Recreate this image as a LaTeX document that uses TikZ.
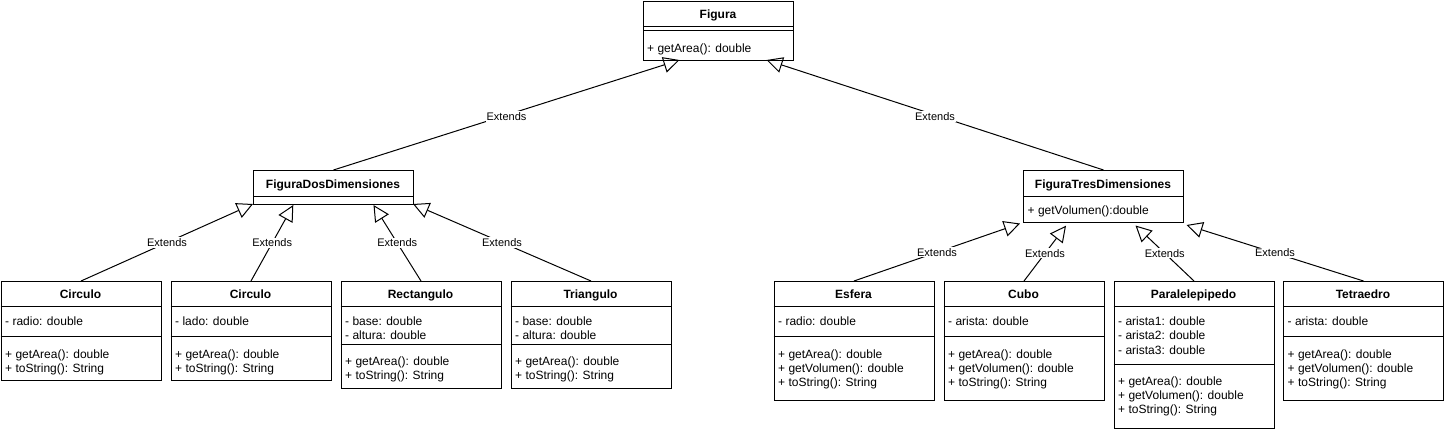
\documentclass[tikz,border=0pt]{standalone}
\usepackage{fontspec}
\setmainfont{Liberation Sans}
\usetikzlibrary{arrows.meta}
\begin{document}
\begin{tikzpicture}[x=1pt,y=-1pt,
  cls/.style={draw, line width=1pt, anchor=north west, inner sep=0pt, fill=white, minimum width=160pt},
  sepline/.style={line width=1pt},
  nm/.style={font=\fontsize{12}{14}\selectfont\bfseries, anchor=base, inner sep=0pt},
  txt/.style={font=\fontsize{12}{14}\selectfont, anchor=base west, inner sep=0pt},
  ext/.style={line width=1pt, -{Triangle[open, length=16pt, width=16pt]}},
  lbl/.style={font=\fontsize{11}{13}\selectfont, fill=white, inner sep=1pt}]
\useasboundingbox (0,0) rectangle (1444,432);

% ---------- Figura ----------
\node[cls, minimum width=150pt, minimum height=59.5pt] (fig) at (643,0.5) {};
\draw[sepline] (643,26) -- (793,26);
\draw[sepline] (643,30) -- (793,30);
\node[nm] (fign) at (718,18) {Figura};
\node[txt] (figm1) at (647,52) {+ getArea(): double};

% ---------- FiguraDosDimensiones ----------
\node[cls, minimum height=34pt] (fdos) at (253,170) {};
\draw[sepline] (253,196.5) -- (413,196.5);
\node[nm] (fdosn) at (333,188) {FiguraDosDimensiones};

% ---------- FiguraTresDimensiones ----------
\node[cls, minimum height=52pt] (ftres) at (1023,170) {};
\draw[sepline] (1023,196) -- (1183,196);
\node[nm] (ftresn) at (1103,188) {FiguraTresDimensiones};
\node[txt] (ftresm1) at (1027.5,214.5) {+ getVolumen():double};

% ---------- Circulo (radio) ----------
\node[cls, minimum height=99pt] (c1) at (0.5,281) {};
\draw[sepline] (0.5,306) -- (160.5,306);
\draw[sepline] (0.5,336.5) -- (160.5,336.5);
\node[nm] (c1n) at (80.5,298) {Circulo};
\node[txt] (c1a1) at (5,325) {- radio: double};
\node[txt] (c1m1) at (5,358) {+ getArea(): double};
\node[txt] (c1m2) at (5,372) {+ toString(): String};

% ---------- Circulo (lado) ----------
\node[cls, minimum height=99pt] (c2) at (170.5,281) {};
\draw[sepline] (170.5,306) -- (330.5,306);
\draw[sepline] (170.5,336.5) -- (330.5,336.5);
\node[nm] (c2n) at (250.5,298) {Circulo};
\node[txt] (c2a1) at (175,325) {- lado: double};
\node[txt] (c2m1) at (175,358) {+ getArea(): double};
\node[txt] (c2m2) at (175,372) {+ toString(): String};

% ---------- Rectangulo ----------
\node[cls, minimum height=107pt] (rect) at (340.5,281) {};
\draw[sepline] (340.5,306) -- (500.5,306);
\draw[sepline] (340.5,344) -- (500.5,344);
\node[nm] (rectn) at (420.5,298) {Rectangulo};
\node[txt] (recta1) at (345,325) {- base: double};
\node[txt] (recta2) at (345,339) {- altura: double};
\node[txt] (rectm1) at (345,365.5) {+ getArea(): double};
\node[txt] (rectm2) at (345,379.5) {+ toString(): String};

% ---------- Triangulo ----------
\node[cls, minimum height=107pt] (tri) at (510.5,281) {};
\draw[sepline] (510.5,306) -- (670.5,306);
\draw[sepline] (510.5,344) -- (670.5,344);
\node[nm] (trin) at (590.5,298) {Triangulo};
\node[txt] (tria1) at (515,325) {- base: double};
\node[txt] (tria2) at (515,339) {- altura: double};
\node[txt] (trim1) at (515,365.5) {+ getArea(): double};
\node[txt] (trim2) at (515,379.5) {+ toString(): String};

% ---------- Esfera ----------
\node[cls, minimum height=119pt] (esf) at (773.5,281) {};
\draw[sepline] (773.5,306) -- (933.5,306);
\draw[sepline] (773.5,336.5) -- (933.5,336.5);
\node[nm] (esfn) at (853.5,298) {Esfera};
\node[txt] (esfa1) at (778,325) {- radio: double};
\node[txt] (esfm1) at (778,358) {+ getArea(): double};
\node[txt] (esfm2) at (778,372) {+ getVolumen(): double};
\node[txt] (esfm3) at (778,386) {+ toString(): String};

% ---------- Cubo ----------
\node[cls, minimum height=119pt] (cubo) at (943.5,281) {};
\draw[sepline] (943.5,306) -- (1103.5,306);
\draw[sepline] (943.5,336.5) -- (1103.5,336.5);
\node[nm] (cubon) at (1023.5,298) {Cubo};
\node[txt] (huboa1) at (948,325) {- arista: double};
\node[txt] (cubom1) at (948,358) {+ getArea(): double};
\node[txt] (cubom2) at (948,372) {+ getVolumen(): double};
\node[txt] (cubom3) at (948,386) {+ toString(): String};

% ---------- Paralelepipedo ----------
\node[cls, minimum height=147pt] (para) at (1113.5,281) {};
\draw[sepline] (1113.5,306) -- (1273.5,306);
\draw[sepline] (1113.5,364.5) -- (1273.5,364.5);
\node[nm] (paran) at (1193.5,298) {Paralelepipedo};
\node[txt] (paraa1) at (1118,325) {- arista1: double};
\node[txt] (paraa2) at (1118,339.5) {- arista2: double};
\node[txt] (paraa3) at (1118,354) {- arista3: double};
\node[txt] (param1) at (1118,385.5) {+ getArea(): double};
\node[txt] (param2) at (1118,399.5) {+ getVolumen(): double};
\node[txt] (param3) at (1118,413.5) {+ toString(): String};

% ---------- Tetraedro ----------
\node[cls, minimum height=119pt] (tetra) at (1283,281) {};
\draw[sepline] (1283,306) -- (1443,306);
\draw[sepline] (1283,336.5) -- (1443,336.5);
\node[nm] (tetran) at (1363,298) {Tetraedro};
\node[txt] (tetraa1) at (1287.5,325) {- arista: double};
\node[txt] (tetram1) at (1287.5,358) {+ getArea(): double};
\node[txt] (tetram2) at (1287.5,372) {+ getVolumen(): double};
\node[txt] (tetram3) at (1287.5,386) {+ toString(): String};

% ---------- connector end points ----------
\coordinate (tA) at (679.5,60);
\coordinate (tB) at (766.5,60);
\coordinate (t1) at (253,204);
\coordinate (t2) at (293.3,205);
\coordinate (t3) at (373.5,205);
\coordinate (t4) at (413,204);
\coordinate (t5) at (1020,223.5);
\coordinate (t6) at (1066,225.7);
\coordinate (t7) at (1135.5,225.5);
\coordinate (t8) at (1186.5,225);

% ---------- connectors ----------
\draw[ext] (fdos.north) -- node[lbl, yshift=-1.5pt] (lA) {Extends} (tA);
\draw[ext] (ftres.north) -- node[lbl, yshift=-1.5pt] (lB) {Extends} (tB);
\draw[ext] (c1.north) -- node[lbl] (l1) {Extends} (t1);
\draw[ext] (c2.north) -- node[lbl] (l2) {Extends} (t2);
\draw[ext] (rect.north) -- node[lbl] (l3) {Extends} (t3);
\draw[ext] (tri.north) -- node[lbl] (l4) {Extends} (t4);
\draw[ext] (esf.north) -- node[lbl] (l5) {Extends} (t5);
\draw[ext] (cubo.north) -- node[lbl] (l6) {Extends} (t6);
\draw[ext] (para.north) -- node[lbl] (l7) {Extends} (t7);
\draw[ext] (tetra.north) -- node[lbl] (l8) {Extends} (t8);
\end{tikzpicture}
\end{document}
